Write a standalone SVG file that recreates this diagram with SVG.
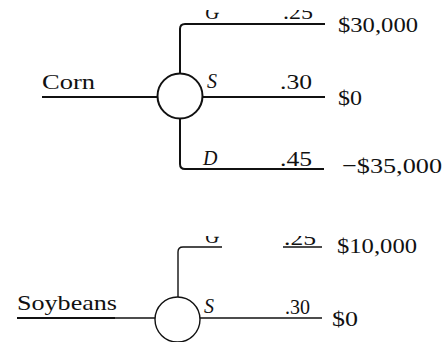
<svg xmlns="http://www.w3.org/2000/svg" width="444" height="342" viewBox="0 0 444 342">
<style>
.t{font-family:"Liberation Serif","Times New Roman",serif;font-size:22px;fill:#111}
.w{font-size:21px}
.i{font-style:italic;font-size:20px}
.c{fill:none;stroke:#111;stroke-width:2}
.s{fill:none;stroke:#111;stroke-width:1.4}
</style>
<defs>
<clipPath id="clipTop"><rect x="0" y="10" width="444" height="40"/></clipPath>
<clipPath id="clipSoy"><rect x="0" y="236" width="444" height="40"/></clipPath>
</defs>
<g id="connectors">
<path class="c" d="M42,97 H157"/>
<path class="c" d="M180,73.5 V29 Q180,24 185,24 H325"/>
<path class="c" d="M202.5,97 H325"/>
<path class="c" d="M180,118.5 V164 Q180,169 185,169 H324"/>
<path class="s" d="M17,318 H155"/>
<path class="c" d="M17,318 H115"/>
<path class="s" d="M178,297 V252 Q178,247 183,247 H222"/>
<path class="s" d="M283,247 H322"/>
<path class="s" d="M200,318 H322"/>
</g>
<g id="corn-node">
<circle class="c" cx="180" cy="96" r="22.5" fill="#fff"/>
<text class="t w" x="42" y="89" textLength="53" lengthAdjust="spacingAndGlyphs">Corn</text>
</g>
<g id="corn-outcomes">
<g clip-path="url(#clipTop)">
<text class="t i" x="205" y="19">G</text>
<text class="t" x="283" y="19" textLength="30" lengthAdjust="spacingAndGlyphs">.25</text>
</g>
<text class="t" x="338" y="32" textLength="80" lengthAdjust="spacingAndGlyphs">$30,000</text>
<text class="t i" x="207" y="88">S</text>
<text class="t" x="280" y="89" textLength="32" lengthAdjust="spacingAndGlyphs">.30</text>
<text class="t" x="338" y="105" textLength="24" lengthAdjust="spacingAndGlyphs">$0</text>
<text class="t i" x="203" y="165">D</text>
<text class="t" x="280" y="166" textLength="32" lengthAdjust="spacingAndGlyphs">.45</text>
<text class="t" x="342" y="173" textLength="100" lengthAdjust="spacingAndGlyphs">−$35,000</text>
</g>
<g id="soy-node">
<circle class="s" cx="177.5" cy="319.5" r="22.5" fill="#fff"/>
<text class="t w" x="17" y="310" textLength="100" lengthAdjust="spacingAndGlyphs">Soybeans</text>
</g>
<g id="soy-outcomes">
<g clip-path="url(#clipSoy)">
<text class="t i" x="205" y="243">G</text>
<text class="t" x="284" y="245" textLength="32" lengthAdjust="spacingAndGlyphs">.25</text>
</g>
<text class="t" x="337" y="253" textLength="80" lengthAdjust="spacingAndGlyphs">$10,000</text>
<text class="t i" x="204" y="313">S</text>
<text class="t" x="285" y="314" textLength="25" lengthAdjust="spacingAndGlyphs">.30</text>
<text class="t" x="332" y="326" textLength="26" lengthAdjust="spacingAndGlyphs">$0</text>
</g>
</svg>
